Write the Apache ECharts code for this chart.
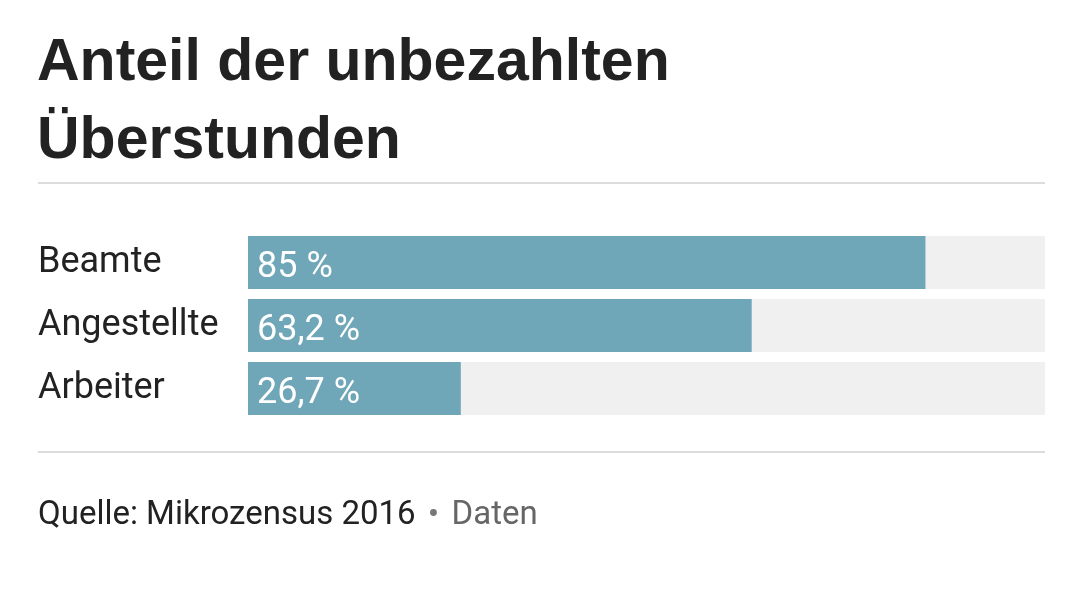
<!DOCTYPE html>
<html>
<head>
<meta charset="utf-8">
<script src="https://cdn.jsdelivr.net/npm/echarts@6/dist/echarts.min.js"></script>
<style>
  html, body { margin: 0; padding: 0; background: #fff; }
  #chart { width: 1080px; height: 595px; }
</style>
</head>
<body>
<div id="chart"></div>
<script>
// Daten
const categories = ['Beamte', 'Angestellte', 'Arbeiter']
const values = [85, 63.2, 26.7]
const valueLabels = ['85 %', '63,2 %', '26,7 %']

const font = 'Roboto, "Liberation Sans", sans-serif'
const titleFont = '"Liberation Sans", Arial, sans-serif'
const chart = echarts.init(document.getElementById('chart'))

chart.setOption({
  animation: false,
  graphic: [
    {
      type: 'text', left: 37, top: 34,
      style: { text: 'Anteil der unbezahlten', font: 'bold 59px ' + titleFont, fill: '#222' }
    },
    {
      type: 'text', left: 37, top: 112,
      style: { text: 'Überstunden', font: 'bold 59px ' + titleFont, fill: '#222' }
    },
    { type: 'rect', shape: { x: 38, y: 182, width: 1007, height: 2 }, style: { fill: '#dcdcdc' } },
    { type: 'rect', shape: { x: 38, y: 451, width: 1007, height: 2 }, style: { fill: '#dcdcdc' } },
    {
      type: 'text', left: 38, top: 499,
      style: {
        text: '{a|Quelle: Mikrozensus 2016}{b|•}{c|Daten}',
        rich: {
          a: { font: '33px ' + font, fill: '#222' },
          b: { font: '34px ' + font, fill: '#777', width: 36, align: 'center' },
          c: { font: '33px ' + font, fill: '#666' }
        }
      }
    }
  ],
  grid: { left: 248, right: 35, top: 231, height: 189 },
  xAxis: { type: 'value', min: 0, max: 100, show: false },
  yAxis: {
    type: 'category',
    data: categories,
    inverse: true,
    axisLine: { show: false },
    axisTick: { show: false },
    axisLabel: { align: 'left', margin: 210, color: '#222', fontSize: 36, fontFamily: font, padding: [0, 0, 4, 0] }
  },
  series: [{
    type: 'bar',
    data: values,
    barWidth: 53,
    itemStyle: { color: '#6fa6b8' },
    showBackground: true,
    backgroundStyle: { color: '#f0f0f0' },
    label: {
      show: true,
      position: 'insideLeft',
      distance: 9,
      offset: [0, 5],
      color: '#fff',
      fontSize: 36,
      fontFamily: font,
      formatter: (p) => valueLabels[p.dataIndex]
    }
  }]
})
</script>
</body>
</html>
